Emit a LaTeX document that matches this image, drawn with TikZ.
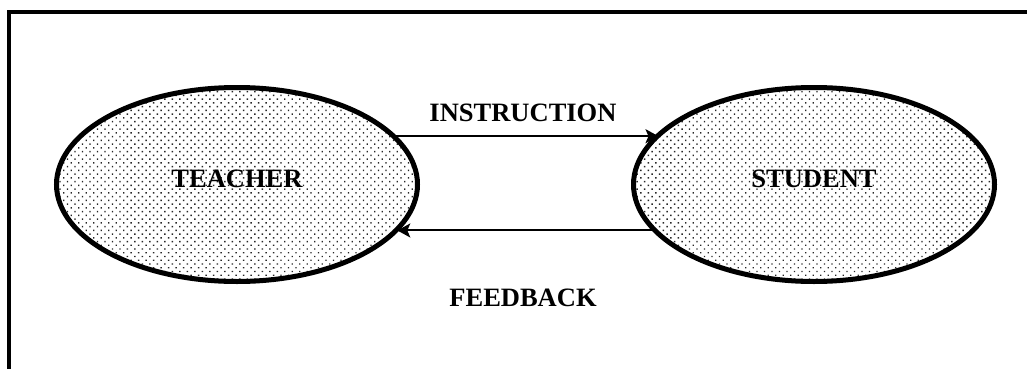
\documentclass[tikz,border=0pt]{standalone}
\usepackage{fontspec}
\setmainfont{Liberation Serif}
\usetikzlibrary{shapes.geometric,arrows.meta,patterns.meta}
\begin{document}
\begin{tikzpicture}[x=1pt,y=-1pt,
  oval/.style={ellipse,draw=black,line width=5pt,minimum width=361pt,minimum height=194pt,
    inner sep=0pt,outer sep=1pt,text depth=11pt,
    pattern={Dots[distance=5.3pt,angle=45,radius=0.95pt]},pattern color=black!85,
    font=\bfseries\fontsize{26.5}{30}\selectfont},
  lbl/.style={inner sep=0pt,font=\bfseries\fontsize{26.5}{30}\selectfont},
  flow/.style={line width=2pt,-{Stealth[length=13pt,width=14pt,inset=3pt]}},
  frame/.style={line width=4pt}]
\useasboundingbox (0,0) rectangle (1027,369);
\draw[frame] (9,375) -- (9,12) -- (1040,12);
\node[oval] (teacher) at (237,184.5) {TEACHER};
\node[oval] (student) at (814,184.5) {STUDENT};
\node[lbl] (instr) at (523,113) {INSTRUCTION};
\node[lbl] (feed) at (523,297.5) {FEEDBACK};
\draw[flow] (teacher.17.7) -- (teacher.17.7 -| student.162.3);
\draw[flow] (student.196.8) -- (student.196.8 -| teacher.-16.8);
\end{tikzpicture}
\end{document}
